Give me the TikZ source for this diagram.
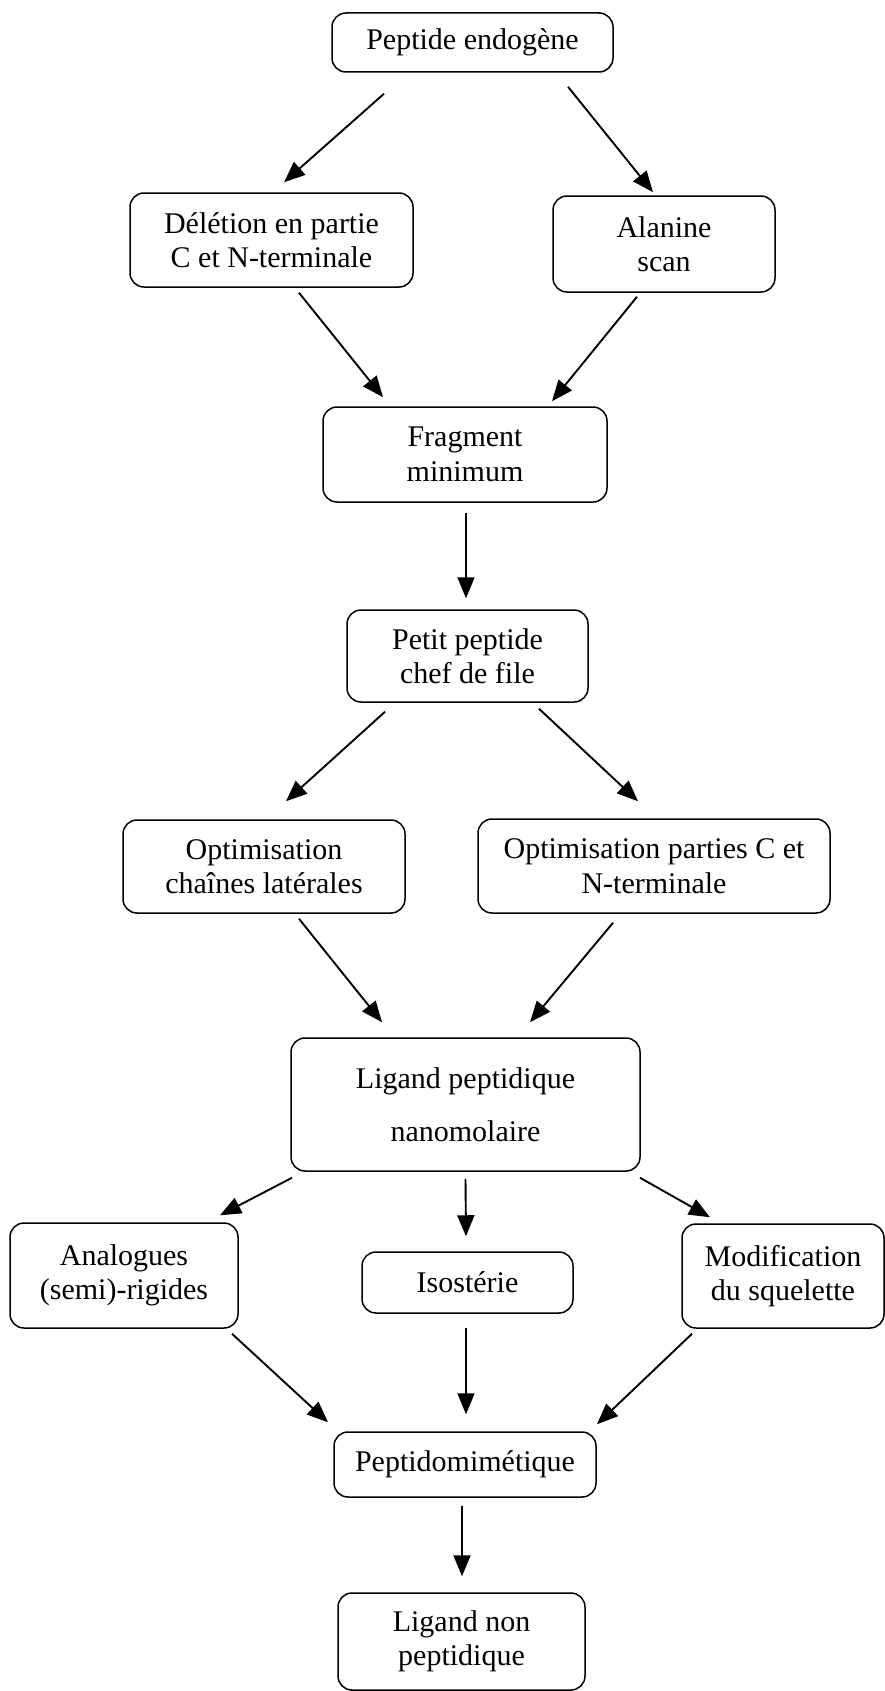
\documentclass[tikz,border=0pt]{standalone}
\usepackage{fontspec}
\setmainfont{Liberation Serif}
\usetikzlibrary{arrows.meta}
\begin{document}
\begin{tikzpicture}[x=1pt,y=-1pt,
  box/.style={draw, line width=1.5pt, rounded corners=14pt, align=center, inner sep=0pt,
    font=\fontsize{30}{34.5}\selectfont},
  arr/.style={line width=1.9pt, -{Triangle[length=21pt,width=17pt]}}]
\useasboundingbox (0,0) rectangle (885,1691);
\node[box, minimum width=281pt, minimum height=59pt] (pe) at (472.5,42.5) {Peptide endogène};
\node[box, minimum width=283pt, minimum height=94pt] (del) at (271.5,240) {Délétion en partie\\C et N-terminale};
\node[box, minimum width=222pt, minimum height=96pt] (ala) at (664,244) {Alanine\\scan};
\node[box, minimum width=284pt, minimum height=95pt] (frag) at (465,454.5) {Fragment\\minimum};
\node[box, minimum width=241pt, minimum height=92pt] (petit) at (467.5,656) {Petit peptide\\chef de file};
\node[box, minimum width=282pt, minimum height=93pt] (optc) at (264,866.5) {Optimisation\\chaînes latérales};
\node[box, minimum width=352pt, minimum height=94pt] (optp) at (654,866) {Optimisation parties C et\\N-terminale};
\node[box, minimum width=349pt, minimum height=133pt] (lig) at (465.5,1104.5) {Ligand peptidique\\[18pt]nanomolaire};
\node[box, minimum width=228pt, minimum height=105pt] (ana) at (124,1275.5) {Analogues\\(semi)-rigides};
\node[box, minimum width=211pt, minimum height=61pt] (iso) at (467.5,1282.5) {Isostérie};
\node[box, minimum width=202pt, minimum height=104pt] (mod) at (783,1276) {Modification\\du squelette};
\node[box, minimum width=262pt, minimum height=65pt] (pep) at (465,1464.5) {Peptidomimétique};
\node[box, minimum width=247pt, minimum height=97pt] (lnp) at (461.5,1641.5) {Ligand non\\peptidique};

\draw[arr] ([shift={(-88.5,21)}]pe.south) -- ([shift={(12.5,-10)}]del.north);
\draw[arr] ([shift={(95.5,14)}]pe.south) -- ([shift={(-11,-3)}]ala.north);
\draw[arr] ([shift={(27.5,5)}]del.south) -- ([shift={(-82,-9)}]frag.north);
\draw[arr] ([shift={(-27,4)}]ala.south) -- ([shift={(87,-5)}]frag.north);
\draw[arr] ([shift={(1,10)}]frag.south) -- ([shift={(-1.5,-11)}]petit.north);
\draw[arr] ([shift={(-82.5,9)}]petit.south) -- ([shift={(22,-18)}]optc.north);
\draw[arr] ([shift={(71.5,6)}]petit.south) -- ([shift={(-16,-17)}]optp.north);
\draw[arr] ([shift={(35,5)}]optc.south) -- ([shift={(-83.5,-15)}]lig.north);
\draw[arr] ([shift={(-41,9)}]optp.south) -- ([shift={(64.5,-15)}]lig.north);
\draw[arr] ([shift={(-173.5,6)}]lig.south) -- ([shift={(96,-7)}]ana.north);
\draw[arr] ([shift={(0,7)}]lig.south) -- ([shift={(-1.5,-15)}]iso.north);
\draw[arr] ([shift={(174.5,6)}]lig.south) -- ([shift={(-73,-6)}]mod.north);
\draw[arr] ([shift={(108,5)}]ana.south) -- ([shift={(-137,-9)}]pep.north);
\draw[arr] ([shift={(-1.5,14)}]iso.south) -- ([shift={(1,-17)}]pep.north);
\draw[arr] ([shift={(-91,5)}]mod.south) -- ([shift={(132,-7)}]pep.north);
\draw[arr] ([shift={(-3,8)}]pep.south) -- ([shift={(0.5,-16)}]lnp.north);
\end{tikzpicture}
\end{document}
